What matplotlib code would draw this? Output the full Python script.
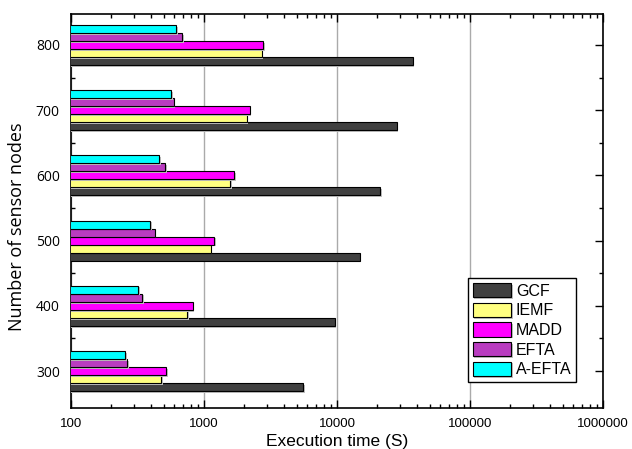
import numpy as np
import matplotlib
matplotlib.use("Agg")
import matplotlib.pyplot as plt
import matplotlib.patheffects as pe
from matplotlib.ticker import FixedLocator, LogLocator, NullFormatter

# execution time (s) for each sensor-node count
nodes = ["300", "400", "500", "600", "700", "800"]
gcf = [5550, 9600, 14800, 21200, 28100, 37000]
iemf = [475, 749, 1122, 1568, 2094, 2715]
madd = [518, 822, 1196, 1680, 2205, 2790]
efta = [265, 344, 426, 512, 592, 687]
a_efta = [255, 321, 393, 461, 568, 619]

series = [("GCF", gcf, "#404040"),
          ("IEMF", iemf, "#ffff80"),
          ("MADD", madd, "#ff00ff"),
          ("EFTA", efta, "#b93cc0"),
          ("A-EFTA", a_efta, "#00ffff")]

fig = plt.figure(figsize=(6.32, 4.49), dpi=100)
ax = fig.add_axes([0.1123, 0.0913, 0.8418, 0.8775])

y = np.arange(len(nodes))
h = 0.123
shadow = [pe.SimplePatchShadow(offset=(1.2, -1.2), shadow_rgbFace="0.75", alpha=1), pe.Normal()]
for k, (name, vals, col) in enumerate(series):
    bars = ax.barh(y + (k - 2) * h, vals, height=h, left=0.001, color=col,
                   edgecolor="black", linewidth=0.8, label=name, zorder=3)
    for b in bars:
        b.set_path_effects(shadow)

ax.set_xscale("log")
ax.set_xlim(100, 1e6)
ax.set_ylim(-0.566, 5.474)

ax.set_xticks([100, 1000, 10000, 100000, 1000000])
ax.set_xticklabels(["100", "1000", "10000", "100000", "1000000"],
                   family="Liberation Sans", fontsize=9.5)
ax.xaxis.set_minor_locator(LogLocator(base=10, subs=np.arange(2, 10)))
ax.xaxis.set_minor_formatter(NullFormatter())

ax.set_yticks(y)
ax.set_yticklabels(nodes, family="Open Sans", fontsize=10)
ax.yaxis.set_minor_locator(FixedLocator(y[:-1] + 0.5))

ax.tick_params(which="major", direction="in", length=6, width=1, top=True, right=True)
ax.tick_params(which="minor", direction="in", length=3, width=1, top=True, right=True)
ax.tick_params(axis="y", which="major", length=0, pad=8)
ax.tick_params(axis="y", which="major", right=True, length=6)
ax.tick_params(axis="x", pad=7)
for t in ax.yaxis.get_major_ticks():
    t.tick1line.set_visible(False)

ax.grid(axis="x", which="major", color="#aaaaaa", linewidth=1, zorder=0)
ax.set_axisbelow(True)
for s in ax.spines.values():
    s.set_linewidth(1.2)

ax.set_xlabel("Execution time (S)", family="Liberation Sans", fontsize=12.5, labelpad=3)
ax.set_ylabel("Number of sensor nodes", family="Open Sans", fontsize=13)
ax.yaxis.set_label_coords(-0.085, 0.46)

leg = ax.legend(loc="lower left", bbox_to_anchor=(0.746, 0.066), borderaxespad=0,
                fancybox=False, edgecolor="black", framealpha=1,
                prop={"family": "Liberation Sans", "size": 11.5},
                handlelength=2.4, handleheight=1.0, handletextpad=0.3,
                labelspacing=0.25, borderpad=0.3)
leg.get_frame().set_linewidth(1)

fig.savefig("out.png", dpi=100)
